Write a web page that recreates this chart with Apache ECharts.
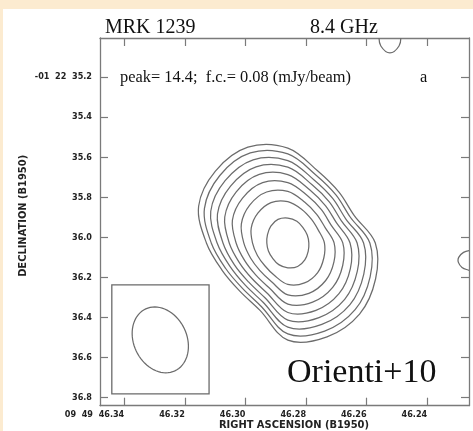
<!DOCTYPE html>
<html>
<head>
<meta charset="utf-8">
<script src="https://cdn.jsdelivr.net/npm/echarts@6/dist/echarts.min.js"></script>
<style>
  html, body { margin: 0; padding: 0; width: 473px; height: 431px; overflow: hidden; background: #fcebd0; }
  #chart { position: absolute; left: 3px; top: 9px; width: 470px; height: 422px; background: #ffffff; }
</style>
</head>
<body>
<div id="chart"></div>
<script>
// MRK 1239 at 8.4 GHz: total-intensity contours, B1950 coordinates.
// RA in seconds of 09h49m, Dec in arcsec of -01d22m.
const RA_TICKS = [46.34, 46.32, 46.30, 46.28, 46.26, 46.24];
const DEC_TICKS = [35.2, 35.4, 35.6, 35.8, 36.0, 36.2, 36.4, 36.6, 36.8];
const RA_RANGE = [46.2262, 46.3480];
const DEC_RANGE = [35.0055, 36.8400];

// Peak position of the source
const PEAK = [46.2860, 36.028];

// Contour outlines, outermost first: radius (mas) from the peak,
// measured at position angles 0, 22.5, ..., 337.5 deg (north through east)
const CONTOUR_PA = [0, 22.5, 45, 67.5, 90, 112.5, 135, 157.5, 180, 202.5, 225, 247.5, 270, 292.5, 315, 337.5];
const CONTOUR_1 = [473, 517, 507, 478, 403, 353, 338, 363, 485, 507, 502, 470, 433, 356, 358, 388];
const CONTOUR_2 = [444, 486, 476, 447, 379, 333, 319, 343, 454, 476, 471, 441, 406, 335, 338, 366];
const CONTOUR_3 = [411, 449, 439, 413, 350, 309, 298, 320, 420, 440, 435, 407, 375, 311, 314, 340];
const CONTOUR_4 = [378, 411, 401, 377, 321, 286, 275, 296, 385, 403, 398, 372, 343, 287, 290, 314];
const CONTOUR_5 = [341, 370, 361, 338, 290, 259, 251, 270, 347, 364, 358, 335, 308, 261, 263, 286];
const CONTOUR_6 = [301, 326, 317, 297, 256, 231, 225, 242, 305, 320, 314, 294, 272, 232, 235, 255];
const CONTOUR_7 = [257, 275, 267, 249, 218, 199, 195, 210, 259, 272, 265, 247, 229, 200, 202, 220];
const CONTOUR_8 = [206, 218, 210, 196, 175, 163, 161, 175, 207, 216, 209, 193, 181, 164, 166, 181];
const CONTOUR_9 = [124, 127, 119, 109, 104, 104, 107, 117, 124, 127, 119, 109, 104, 104, 107, 117];
const CONTOURS = [CONTOUR_1, CONTOUR_2, CONTOUR_3, CONTOUR_4, CONTOUR_5, CONTOUR_6, CONTOUR_7, CONTOUR_8, CONTOUR_9];

// Small lowest-level contour pieces near the map edges, as [RA, Dec]
const EDGE_ARC_TOP = [[46.2559, 34.9955], [46.2553, 35.0454], [46.2523, 35.0803], [46.2493, 35.0454], [46.2487, 34.9955]];
const EDGE_ARC_RIGHT = [[46.2256, 36.065], [46.2280, 36.075], [46.2296, 36.100], [46.2297, 36.125], [46.2285, 36.150], [46.2265, 36.163], [46.2250, 36.168]];

// Restoring beam: centre RA, centre Dec, FWHM major, FWHM minor (arcsec), PA (deg)
const BEAM = [46.3281, 36.5117, 0.341, 0.263, 25];
// Beam inset frame: RA east edge, RA west edge, Dec north edge, Dec south edge
const BEAM_BOX = [46.3441, 46.3120, 36.2374, 36.7810];

const COS_DEC = Math.cos((1 + 22 / 60 + 36 / 3600) * Math.PI / 180);
const D2R = Math.PI / 180;

function skyOffset(ra0, dec0, east, north) {
  // east/north offsets in arcsec -> [RA s, Dec arcsec] (Dec is negative, so north lowers the arcsec value)
  return [ra0 + east / (15 * COS_DEC), dec0 - north];
}

const CONTOUR_POINTS = CONTOURS.map(radii => radii.map((r, i) => {
  const pa = CONTOUR_PA[i] * D2R;
  return skyOffset(PEAK[0], PEAK[1], (r / 1000) * Math.sin(pa), (r / 1000) * Math.cos(pa));
}));

function beamOutline() {
  const a = BEAM[2] / 2, b = BEAM[3] / 2, pa = BEAM[4] * D2R;
  const pts = [];
  for (let k = 0; k < 72; k++) {
    const t = k / 72 * 2 * Math.PI;
    const along = a * Math.sin(t), across = b * Math.cos(t);
    const east = along * Math.sin(pa) + across * Math.cos(pa);
    const north = along * Math.cos(pa) - across * Math.sin(pa);
    pts.push(skyOffset(BEAM[0], BEAM[1], east, north));
  }
  return pts;
}

const LINE_GREY = '#6c6c6c';
const SANS = '"DejaVu Sans Condensed", "DejaVu Sans", sans-serif';
const SERIF = '"Liberation Serif", "Times New Roman", serif';

const tickStyle = { color: '#7a7a7a', width: 1.2 };
const axisLineStyle = { color: '#7a7a7a', width: 1.3 };
const titleText = size => ({ fontFamily: SERIF, fontSize: size, fontWeight: 'normal', color: '#111' });

const chart = echarts.init(document.getElementById('chart'), null, { renderer: 'canvas' });

chart.setOption({
  animation: false,
  backgroundColor: '#ffffff',
  title: [
    { text: 'MRK 1239', left: 102, top: 9, padding: 0, textStyle: titleText(20) },
    { text: '8.4 GHz', left: 307, top: 9, padding: 0, textStyle: titleText(20) },
    { text: 'peak= 14.4;  f.c.= 0.08 (mJy/beam)', left: 117, top: 61, padding: 0, textStyle: titleText(16.4) },
    { text: 'a', left: 417, top: 61, padding: 0, textStyle: titleText(16.4) },
    { text: 'Orienti+10', left: 284, top: 347, padding: 0, textStyle: titleText(34) }
  ],
  grid: { left: 97, top: 29, right: 4, bottom: 25.3, outerBoundsMode: 'none', containLabel: false },
  xAxis: [
    {
      type: 'value', min: RA_RANGE[0], max: RA_RANGE[1], inverse: true, position: 'bottom',
      axisLine: { onZero: false, lineStyle: axisLineStyle },
      axisTick: { inside: true, length: 8, customValues: RA_TICKS, lineStyle: tickStyle },
      axisLabel: {
        customValues: RA_TICKS, align: 'right', margin: 4,
        fontFamily: SANS, fontWeight: 'bold', fontSize: 9, color: '#222',
        formatter: v => (Math.abs(v - RA_TICKS[0]) < 1e-6 ? '09  49  ' : '') + v.toFixed(2)
      },
      splitLine: { show: false },
      name: 'RIGHT ASCENSION (B1950)', nameLocation: 'middle', nameGap: 14, nameMoveOverlap: false,
      nameTextStyle: { fontFamily: SANS, fontWeight: 'bold', fontSize: 11, color: '#222', padding: [0, 0, 0, 19] }
    },
    {
      type: 'value', min: RA_RANGE[0], max: RA_RANGE[1], inverse: true, position: 'top',
      axisLine: { onZero: false, lineStyle: axisLineStyle },
      axisTick: { inside: true, length: 8, customValues: RA_TICKS, lineStyle: tickStyle },
      axisLabel: { show: false },
      splitLine: { show: false }
    }
  ],
  yAxis: [
    {
      type: 'value', min: DEC_RANGE[0], max: DEC_RANGE[1], inverse: true, position: 'left',
      axisLine: { onZero: false, lineStyle: axisLineStyle },
      axisTick: { inside: true, length: 8, customValues: DEC_TICKS, lineStyle: tickStyle },
      axisLabel: {
        customValues: DEC_TICKS, margin: 8,
        fontFamily: SANS, fontWeight: 'bold', fontSize: 9, color: '#222',
        formatter: v => (Math.abs(v - DEC_TICKS[0]) < 1e-6 ? '-01  22  ' : '') + v.toFixed(1)
      },
      splitLine: { show: false },
      name: 'DECLINATION (B1950)', nameLocation: 'middle', nameGap: 71, nameRotate: 90, nameMoveOverlap: false,
      nameTextStyle: { fontFamily: SANS, fontWeight: 'bold', fontSize: 11, color: '#222', padding: [0, 0, 0, 12] }
    },
    {
      type: 'value', min: DEC_RANGE[0], max: DEC_RANGE[1], inverse: true, position: 'right',
      axisLine: { onZero: false, lineStyle: axisLineStyle },
      axisTick: { inside: true, length: 8, customValues: DEC_TICKS, lineStyle: tickStyle },
      axisLabel: { show: false },
      splitLine: { show: false }
    }
  ],
  series: [
    {
      name: 'contours', type: 'custom', clip: true, silent: true,
      xAxisIndex: 0, yAxisIndex: 0,
      data: CONTOURS.map((c, i) => [PEAK[0], PEAK[1], i]),
      renderItem: (params, api) => ({
        type: 'polygon',
        shape: { points: CONTOUR_POINTS[params.dataIndex].map(p => api.coord(p)), smooth: 0.35 },
        style: { fill: 'none', stroke: LINE_GREY, lineWidth: 1.25 }
      })
    },
    {
      name: 'edge arcs', type: 'custom', clip: true, silent: true,
      xAxisIndex: 0, yAxisIndex: 0,
      data: [[EDGE_ARC_TOP[2][0], EDGE_ARC_TOP[2][1], 0], [EDGE_ARC_RIGHT[3][0], EDGE_ARC_RIGHT[3][1], 1]],
      renderItem: (params, api) => ({
        type: 'polyline',
        shape: { points: [EDGE_ARC_TOP, EDGE_ARC_RIGHT][params.dataIndex].map(p => api.coord(p)), smooth: 0.4 },
        style: { fill: 'none', stroke: LINE_GREY, lineWidth: 1.25 }
      })
    },
    {
      name: 'beam', type: 'custom', clip: true, silent: true,
      xAxisIndex: 0, yAxisIndex: 0,
      data: [[BEAM[0], BEAM[1]]],
      renderItem: (params, api) => {
        const p1 = api.coord([BEAM_BOX[0], BEAM_BOX[2]]);
        const p2 = api.coord([BEAM_BOX[1], BEAM_BOX[3]]);
        return {
          type: 'group',
          children: [
            {
              type: 'rect',
              shape: { x: Math.min(p1[0], p2[0]), y: Math.min(p1[1], p2[1]), width: Math.abs(p2[0] - p1[0]), height: Math.abs(p2[1] - p1[1]) },
              style: { fill: 'none', stroke: '#6a6a6a', lineWidth: 1.3 }
            },
            {
              type: 'polygon',
              shape: { points: beamOutline().map(p => api.coord(p)) },
              style: { fill: 'none', stroke: LINE_GREY, lineWidth: 1.25 }
            }
          ]
        };
      }
    }
  ]
});
</script>
</body>
</html>
